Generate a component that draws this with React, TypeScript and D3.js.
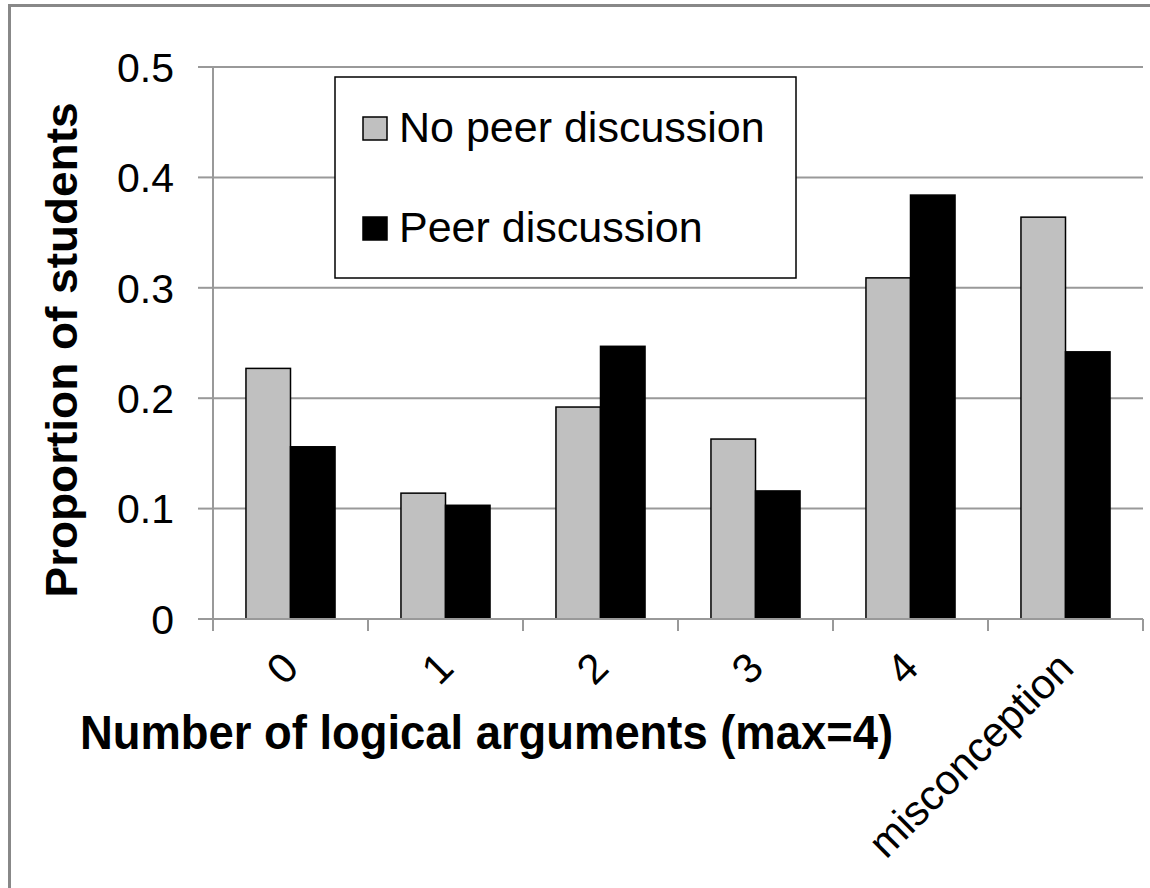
import React from 'react'
import * as d3 from 'd3'

const categories = ['0', '1', '2', '3', '4', 'misconception']
const seriesNames = ['No peer discussion', 'Peer discussion']
const noPeer = [0.227, 0.114, 0.192, 0.163, 0.309, 0.364]
const peer = [0.156, 0.103, 0.247, 0.116, 0.384, 0.242]
const yTicks = [0, 0.1, 0.2, 0.3, 0.4, 0.5]

const W = 1150
const H = 888
const FONT = 'Arial, "Liberation Sans", sans-serif'
const colors = ['#c0c0c0', '#000000']

export default function App() {
	const left = 213
	const right = 1143
	const top = 67
	const bottom = 619

	const x = d3.scaleBand().domain(categories).range([left, right]).paddingInner(0).paddingOuter(0)
	const x1 = d3.scaleBand().domain(seriesNames).range([0, x.bandwidth()]).paddingInner(0).paddingOuter(0.74)
	const y = d3.scaleLinear().domain([0, 0.5]).range([bottom, top])

	const series = [noPeer, peer]
	const tickXs = categories.map(c => x(c)).concat([right])

	return (
		<div style={{position: 'absolute', left: 0, top: 0}}>
			<svg width={W} height={H} style={{display: 'block', background: '#fff'}} fontFamily={FONT}>
				{/* outer frame, cut off at right and bottom */}
				<rect x={9.5} y={5.5} width={W + 20} height={H + 20} fill='#fff' stroke='#888' strokeWidth={3}/>

				{/* grid */}
				{yTicks.filter(t => t > 0).map(t => (
					<line key={'g' + t} x1={left} x2={right} y1={y(t)} y2={y(t)} stroke='#999' strokeWidth={2}/>
				))}

				{/* axes */}
				<line x1={left} x2={left} y1={top} y2={bottom} stroke='#999' strokeWidth={2}/>
				{yTicks.map(t => (
					<line key={'yt' + t} x1={left - 15} x2={left} y1={y(t)} y2={y(t)} stroke='#999' strokeWidth={2}/>
				))}
				{yTicks.map(t => (
					<text key={'yl' + t} x={174} y={y(t)} dy='0.36em' textAnchor='end' fontSize={41} fill='#000'>
						{t === 0 ? '0' : d3.format('.1f')(t)}
					</text>
				))}

				{/* bars */}
				{categories.map((c, i) => (
					<g key={'b' + c} transform={'translate(' + x(c) + ',0)'}>
						{series.map((s, j) => (
							<rect key={j} x={x1(seriesNames[j])} y={y(s[i])} width={x1.bandwidth()} height={bottom - y(s[i])}
								fill={colors[j]} stroke='#000' strokeWidth={1.5}/>
						))}
					</g>
				))}

				<line x1={left} x2={right} y1={bottom} y2={bottom} stroke='#999' strokeWidth={2}/>
				{tickXs.map((tx, i) => (
					<line key={'xt' + i} x1={tx} x2={tx} y1={bottom} y2={bottom + 12} stroke='#999' strokeWidth={2}/>
				))}
				{categories.map(c => {
					const cx = x(c) + x.bandwidth() / 2
					return (
						<text key={'xl' + c} transform={'translate(' + cx + ',660) rotate(-45)'} textAnchor='end'
							dominantBaseline='central' fontSize={42} fill='#000'>{c}</text>
					)
				})}

				{/* axis titles */}
				<text transform='translate(77,350) rotate(-90)' textAnchor='middle' fontSize={44} fontWeight='bold' fill='#000'
					textLength={495} lengthAdjust='spacingAndGlyphs'>
					Proportion of students
				</text>
				<text x={80} y={749} fontSize={48} fontWeight='bold' textLength={813} lengthAdjust='spacingAndGlyphs' fill='#000'>
					Number of logical arguments (max=4)
				</text>

				{/* legend */}
				<rect x={335} y={77} width={461} height={201} fill='#fff' stroke='#000' strokeWidth={1.5}/>
				{seriesNames.map((name, j) => (
					<g key={'lg' + j} transform={'translate(0,' + (j * 100) + ')'}>
						<rect x={363} y={117} width={24} height={23} fill={colors[j]} stroke='#000' strokeWidth={1.5}/>
						<text x={399} y={142} fontSize={43} fill='#000'>{name}</text>
					</g>
				))}
			</svg>
		</div>
	)
}
